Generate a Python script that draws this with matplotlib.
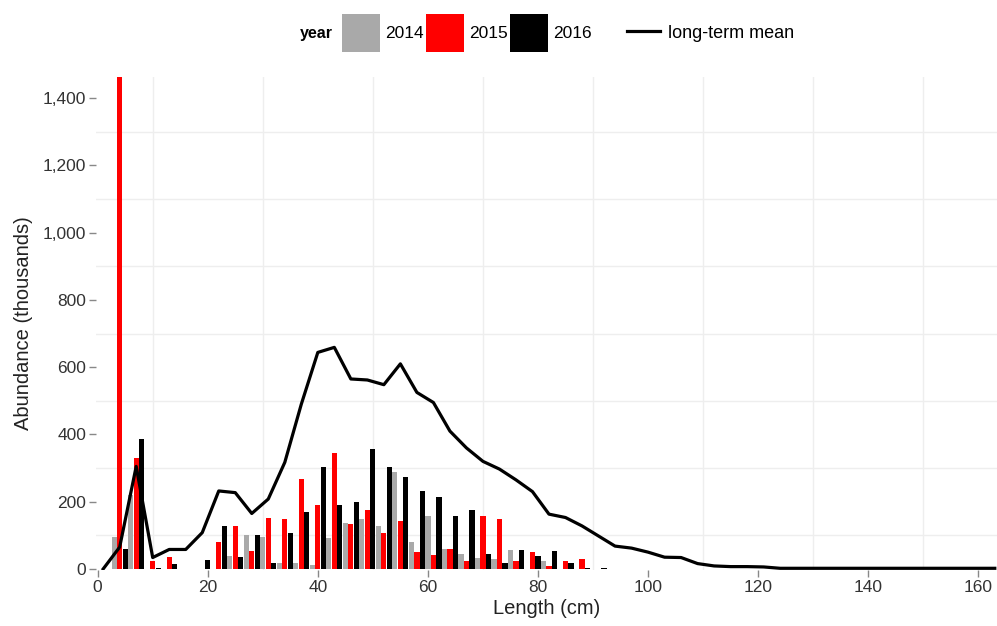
import matplotlib
matplotlib.use('Agg')
import matplotlib.pyplot as plt
import matplotlib.ticker as mticker
from matplotlib.patches import Patch
from matplotlib.lines import Line2D
import numpy as np

plt.rcParams['font.family'] = ['Liberation Sans', 'DejaVu Sans']

# length classes (cm), centre of each 3 cm group
lengths = [4, 7, 10, 13, 16, 19, 22, 25, 28, 31, 34, 37, 40, 43, 46, 49, 52, 55,
           58, 61, 64, 67, 70, 73, 76, 79, 82, 85, 88, 91]
abund_2014 = [96, 220, 0, 0, 0, 0, 0, 39, 101, 96, 19, 18, 12, 91, 138, 148, 128, 289,
              80, 158, 60, 44, 34, 29, 56, 0, 25, 0, 0, 0]
abund_2015 = [1700, 329, 24, 36, 0, 0, 80, 128, 52, 153, 148, 267, 190, 345, 133, 175, 106, 143,
              51, 41, 60, 24, 158, 148, 24, 50, 8, 24, 29, 0]
abund_2016 = [60, 387, 4, 15, 0, 28, 128, 36, 101, 19, 106, 168, 304, 190, 200, 357, 304, 274,
              232, 215, 158, 175, 44, 19, 56, 39, 54, 17, 3, 3]

mean_len = [1, 4, 7, 10, 13, 16, 19, 22, 25, 28, 31, 34, 37, 40, 43, 46, 49, 52, 55, 58,
            61, 64, 67, 70, 73, 76, 79, 82, 85, 88, 91, 94, 97, 100, 103, 106, 109, 112,
            115, 118, 121, 124, 163]
mean_abund = [0, 65, 305, 34, 58, 58, 108, 232, 227, 165, 208, 317, 490, 644, 659, 565, 562,
              548, 610, 525, 495, 410, 360, 320, 297, 265, 230, 163, 153, 128, 98, 68, 62,
              50, 35, 34, 16, 9, 7, 7, 6, 2, 2]

years = ['2014', '2015', '2016']
colors = ['#A9A9A9', '#FF0000', '#000000']

fig = plt.figure(figsize=(9.97, 6.26), dpi=100)
ax = fig.add_axes([0.0963, 0.0895, 0.9037, 0.7875])

x = np.array(lengths)
for i, (vals, c) in enumerate(zip([abund_2014, abund_2015, abund_2016], colors)):
    ax.bar(x + (i - 1), vals, width=0.95, color=c, linewidth=0, zorder=2)

ax.plot(mean_len, mean_abund, color='black', linewidth=2.3, zorder=3)

ax.set_xlim(-0.3, 163.4)
ax.set_ylim(-3, 1463)

ax.xaxis.set_major_locator(mticker.MultipleLocator(20))
ax.xaxis.set_minor_locator(mticker.MultipleLocator(10))
ax.yaxis.set_major_locator(mticker.MultipleLocator(200))
ax.yaxis.set_minor_locator(mticker.MultipleLocator(100))
ax.yaxis.set_major_formatter(mticker.FuncFormatter(lambda v, p: '{:,.0f}'.format(v)))

ax.grid(which='minor', color='#EEEEEE', linewidth=1, zorder=0)
ax.grid(which='major', visible=False)
ax.set_axisbelow(True)
for s in ax.spines.values():
    s.set_visible(False)

ax.tick_params(which='major', length=5, width=1, color='#888888',
               labelsize=12.5, labelcolor='#333333', pad=2)
ax.tick_params(which='minor', length=0)

ax.set_xlabel('Length (cm)', fontsize=14.5, color='#222222', labelpad=3)
ax.set_ylabel('Abundance (thousands)', fontsize=14.5, color='#222222', labelpad=7)

fig.text(0.301, 0.947, 'year', fontsize=11.5, fontweight='bold', va='center', ha='left')

handles = [Patch(facecolor=c, edgecolor='none') for c in colors]
leg1 = fig.legend(handles, years, loc='center left', bbox_to_anchor=(0.343, 0.947),
                  ncol=3, frameon=False, fontsize=12.5, handlelength=2.2, handleheight=3.0,
                  handletextpad=0.3, columnspacing=0.1, borderpad=0, borderaxespad=0)
leg2 = fig.legend([Line2D([0], [0], color='black', linewidth=2.3)], ['long-term mean'],
                  loc='center left', bbox_to_anchor=(0.629, 0.947), frameon=False,
                  fontsize=13, handlelength=1.8, handletextpad=0.45, borderpad=0,
                  borderaxespad=0)

fig.savefig('out.png', dpi=100)
plt.close()
